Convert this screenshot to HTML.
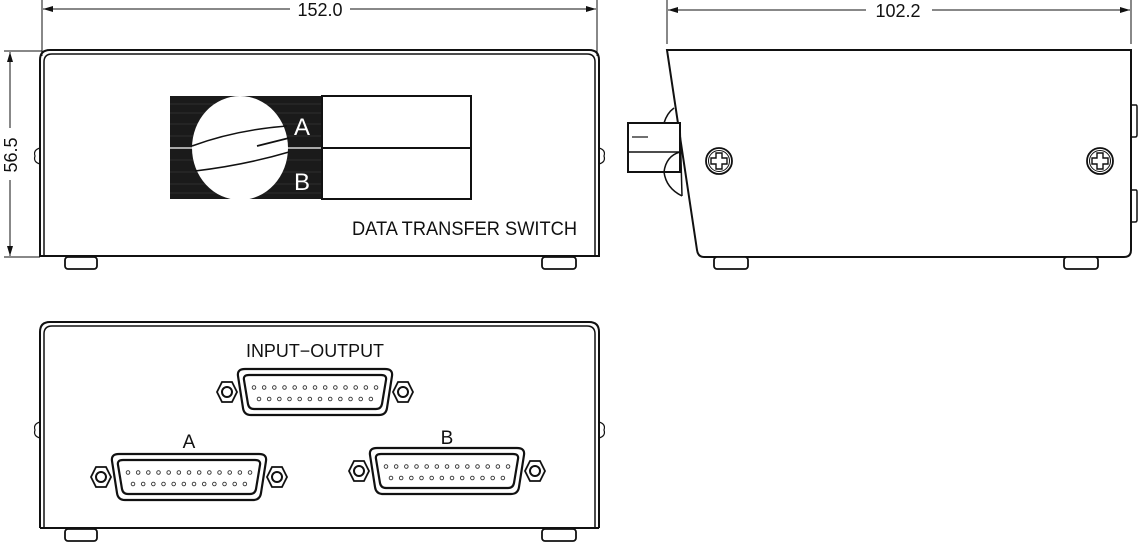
<!DOCTYPE html>
<html><head><meta charset="utf-8"><style>
html,body{margin:0;padding:0;background:#fff;}
svg{display:block;}
text{font-family:"Liberation Sans",sans-serif;fill:#111;}
</style></head><body>
<svg width="1139" height="547" viewBox="0 0 1139 547" xmlns="http://www.w3.org/2000/svg">
<defs>
<marker id="ar" viewBox="0 0 10 6" refX="10" refY="3" markerWidth="10" markerHeight="6" orient="auto-start-reverse" markerUnits="userSpaceOnUse">
<path d="M0,0 L10,3 L0,6 Z" fill="#111"/></marker>
<g id="conn">
<path d="M-70,-23 L70,-23 Q78,-23 77,-16 L72,16 Q71,23 64,23 L-64,23 Q-71,23 -72,16 L-77,-16 Q-78,-23 -70,-23 Z" fill="#fff" stroke="#111" stroke-width="2.2"/>
<path d="M-66,-17 L66,-17 Q72,-17 71,-12 L67,12 Q66,17 61,17 L-61,17 Q-66,17 -67,12 L-71,-12 Q-72,-17 -66,-17 Z" fill="#fff" stroke="#111" stroke-width="2.2"/>
<polygon points="-93,-10 -83,-10 -78,0 -83,10 -93,10 -98,0" fill="#fff" stroke="#111" stroke-width="1.8"/>
<circle cx="-88" cy="0" r="5" fill="none" stroke="#111" stroke-width="2"/>
<polygon points="83,-10 93,-10 98,0 93,10 83,10 78,0" fill="#fff" stroke="#111" stroke-width="1.8"/>
<circle cx="88" cy="0" r="5" fill="none" stroke="#111" stroke-width="2"/>
<g fill="none" stroke="#333" stroke-width="0.9" id="pins"></g>
</g>
</defs>

<line x1="42" y1="0" x2="42" y2="56" stroke="#111"/>
<line x1="597" y1="0" x2="597" y2="56" stroke="#111"/>
<line x1="43" y1="9" x2="290" y2="9" stroke="#111" marker-start="url(#ar)"/>
<line x1="350" y1="9" x2="596" y2="9" stroke="#111" marker-end="url(#ar)"/>
<text x="320" y="16" font-size="18" text-anchor="middle">152.0</text>
<line x1="4" y1="51" x2="42" y2="51" stroke="#111"/>
<line x1="4" y1="257" x2="40" y2="257" stroke="#111"/>
<line x1="10" y1="52" x2="10" y2="128" stroke="#111" marker-start="url(#ar)"/>
<line x1="10" y1="180" x2="10" y2="256" stroke="#111" marker-end="url(#ar)"/>
<text x="0" y="0" font-size="18" text-anchor="middle" transform="translate(17,155) rotate(-90)">56.5</text>

<path d="M40,257 L40,60 Q40,50 50,50 L589,50 Q599,50 599,60 L599,257" fill="none" stroke="#111" stroke-width="2"/>
<path d="M44,257 L44,62 Q44,54 52,54 L587,54 Q595,54 595,62 L595,257" fill="none" stroke="#111" stroke-width="1.5"/>
<line x1="40" y1="256" x2="599" y2="256" stroke="#111" stroke-width="2"/>
<path d="M40,148 Q33,150 35,156 Q33,162 40,164" fill="none" stroke="#111" stroke-width="1.2"/>
<path d="M599,148 Q606,150 604,156 Q606,162 599,164" fill="none" stroke="#111" stroke-width="1.2"/>
<rect x="65" y="257" width="32" height="12" rx="3" fill="#fff" stroke="#111" stroke-width="1.8"/>
<rect x="542" y="257" width="34" height="12" rx="3" fill="#fff" stroke="#111" stroke-width="1.8"/>
<rect x="170" y="96" width="152" height="103" fill="#1a1a1a"/>
<g stroke="#444" stroke-width="0.6">
<line x1="170" y1="104" x2="322" y2="104"/><line x1="170" y1="113" x2="322" y2="113"/>
<line x1="170" y1="124" x2="322" y2="124"/><line x1="170" y1="136" x2="322" y2="136"/>
<line x1="170" y1="160" x2="322" y2="160"/><line x1="170" y1="172" x2="322" y2="172"/>
<line x1="170" y1="184" x2="322" y2="184"/><line x1="170" y1="193" x2="322" y2="193"/>
</g>
<line x1="170" y1="148" x2="322" y2="148" stroke="#fff" stroke-width="1.2"/>
<rect x="322" y="96" width="149" height="103" fill="#fff" stroke="#111" stroke-width="2"/>
<line x1="322" y1="148" x2="471" y2="148" stroke="#111" stroke-width="2"/>
<ellipse cx="240" cy="148" rx="48" ry="52" fill="#fff"/>
<path d="M192,146 Q235,130 287,126" fill="none" stroke="#111" stroke-width="1.5"/>
<path d="M257,146 L289,138" fill="none" stroke="#111" stroke-width="1.8"/>
<path d="M195,171 Q245,165 289,152" fill="none" stroke="#111" stroke-width="1.5"/>
<text x="302" y="135" font-size="24" text-anchor="middle" style="fill:#fff">A</text>
<text x="302" y="190" font-size="24" text-anchor="middle" style="fill:#fff">B</text>
<text x="352" y="235" font-size="19" textLength="225" lengthAdjust="spacingAndGlyphs">DATA  TRANSFER  SWITCH</text>

<line x1="667" y1="0" x2="667" y2="44" stroke="#111"/>
<line x1="1131" y1="0" x2="1131" y2="44" stroke="#111"/>
<line x1="668" y1="10" x2="866" y2="10" stroke="#111" marker-start="url(#ar)"/>
<line x1="932" y1="10" x2="1130" y2="10" stroke="#111" marker-end="url(#ar)"/>
<text x="898" y="17" font-size="18" text-anchor="middle">102.2</text>
<path d="M667,50 L1131,50 L1131,250 Q1131,257 1124,257 L704,257 Q698,257 697,250 Z" fill="#fff" stroke="#111" stroke-width="2"/>
<path d="M1131,105 L1136,105 Q1137,105 1137,107 L1137,135 Q1137,137 1135,137 L1131,137" fill="none" stroke="#111" stroke-width="1.5"/>
<path d="M1131,190 L1136,190 Q1137,190 1137,192 L1137,220 Q1137,222 1135,222 L1131,222" fill="none" stroke="#111" stroke-width="1.5"/>
<path d="M674,108 Q667,113 664,123 L676,123" fill="none" stroke="#111" stroke-width="1.5"/>
<rect x="628" y="123" width="52" height="49" fill="#fff" stroke="#111" stroke-width="2"/>
<line x1="628" y1="152" x2="680" y2="152" stroke="#111" stroke-width="1.5"/>
<line x1="632" y1="137" x2="648" y2="137" stroke="#111" stroke-width="1.2"/>
<path d="M680,152 Q666,156 664,172 Q666,188 682,196" fill="none" stroke="#111" stroke-width="1.5"/>
<line x1="680" y1="123" x2="682" y2="196" stroke="#111" stroke-width="1.5"/>
<g fill="none" stroke="#111" stroke-width="1.8">
<circle cx="719" cy="161" r="13"/><circle cx="719" cy="161" r="10.5" stroke-width="1"/>
<path d="M716,153 h6 v5 h5 v6 h-5 v5 h-6 v-5 h-5 v-6 h5 z" stroke-width="1.4"/>
<circle cx="1100" cy="161" r="13"/><circle cx="1100" cy="161" r="10.5" stroke-width="1"/>
<path d="M1097,153 h6 v5 h5 v6 h-5 v5 h-6 v-5 h-5 v-6 h5 z" stroke-width="1.4"/>
</g>
<rect x="714" y="257" width="34" height="12" rx="3" fill="#fff" stroke="#111" stroke-width="1.8"/>
<rect x="1064" y="257" width="34" height="12" rx="3" fill="#fff" stroke="#111" stroke-width="1.8"/>

<path d="M40,528 L40,332 Q40,322 50,322 L589,322 Q599,322 599,332 L599,528" fill="none" stroke="#111" stroke-width="2"/>
<path d="M44,528 L44,334 Q44,326 52,326 L587,326 Q595,326 595,334 L595,528" fill="none" stroke="#111" stroke-width="1.5"/>
<line x1="40" y1="528" x2="599" y2="528" stroke="#111" stroke-width="2"/>
<path d="M40,422 Q33,424 35,430 Q33,436 40,438" fill="none" stroke="#111" stroke-width="1.2"/>
<path d="M599,422 Q606,424 604,430 Q606,436 599,438" fill="none" stroke="#111" stroke-width="1.2"/>
<rect x="65" y="529" width="32" height="12" rx="3" fill="#fff" stroke="#111" stroke-width="1.8"/>
<rect x="542" y="529" width="34" height="12" rx="3" fill="#fff" stroke="#111" stroke-width="1.8"/>
<text x="315" y="357" font-size="18" text-anchor="middle" textLength="138" lengthAdjust="spacingAndGlyphs">INPUT−OUTPUT</text>
<text x="189" y="448" font-size="19" text-anchor="middle">A</text>
<text x="447" y="444" font-size="19" text-anchor="middle">B</text>
<use href="#conn" x="315" y="392"/>
<use href="#conn" x="189" y="477"/>
<use href="#conn" x="447" y="471"/>
<script>
var g=document.getElementById('pins'),ns='http://www.w3.org/2000/svg';
for(var i=0;i<13;i++){var c=document.createElementNS(ns,'circle');c.setAttribute('cx',-61+i*10.17);c.setAttribute('cy',-4.5);c.setAttribute('r',1.8);g.appendChild(c);}
for(var i=0;i<12;i++){var c=document.createElementNS(ns,'circle');c.setAttribute('cx',-56+i*10.17);c.setAttribute('cy',7);c.setAttribute('r',1.8);g.appendChild(c);}
</script>
</svg>
</body></html>
